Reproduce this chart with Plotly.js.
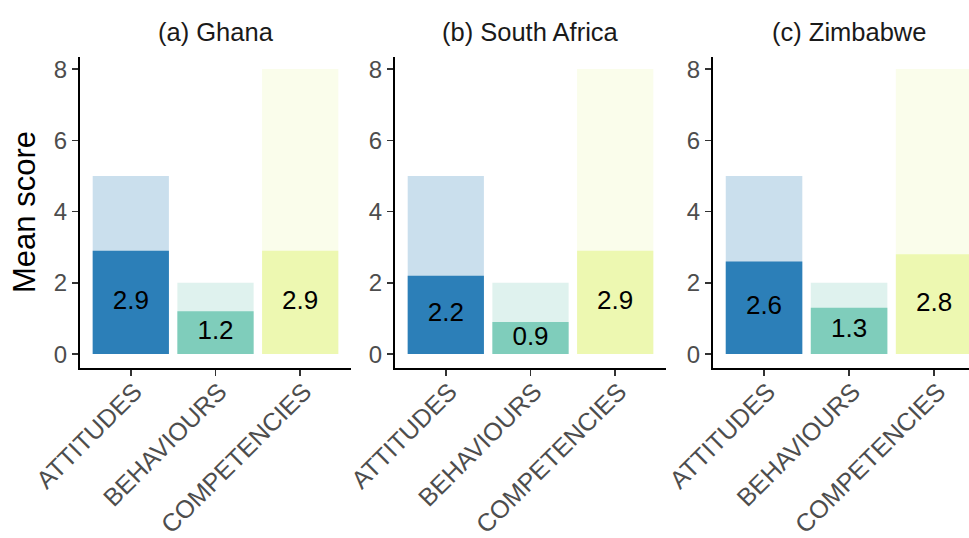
<!DOCTYPE html>
<html>
<head>
<meta charset="utf-8">
<script src="https://cdn.plot.ly/plotly-3.0.1.min.js"></script>
<style>
  html, body { margin: 0; padding: 0; background: #ffffff; }
  #chart { width: 969px; height: 538px; }
</style>
</head>
<body>
<div id="chart"></div>
<script>
// Score domains and their maximum possible score
const categories = ['ATTITUDES', 'BEHAVIOURS', 'COMPETENCIES'];
const maxScore = [5, 2, 8];

// Mean scores per country
const ghana = [2.9, 1.2, 2.9];
const southAfrica = [2.2, 0.9, 2.9];
const zimbabwe = [2.6, 1.3, 2.8];

const panelTitles = ['(a) Ghana', '(b) South Africa', '(c) Zimbabwe'];
const yTicks = [0, 2, 4, 6, 8];

// YlGnBu (3 classes), one colour per domain
const domainColors = ['#2C7FB8', '#7FCDBB', '#EDF8B1'];

const W = 969, H = 538;
const FONT = 'Liberation Sans, Arial, Helvetica, sans-serif';

// panel placement in pixels
const panelPx = [[80, 351], [395, 666], [713, 969]];
const xRanges = [[-0.6, 2.6], [-0.6, 2.6], [-0.6, 2.41]];
const plotTop = 57, plotBottom = 368;
const yDomain = [(H - plotBottom) / H, (H - plotTop) / H];

const panelValues = [ghana, southAfrica, zimbabwe];

const data = [];
const layout = {
  width: W, height: H,
  margin: { l: 0, r: 0, t: 0, b: 0 },
  paper_bgcolor: '#ffffff',
  plot_bgcolor: '#ffffff',
  barmode: 'overlay',
  showlegend: false,
  font: { family: FONT, color: '#000000' },
  annotations: []
};

panelValues.forEach((vals, i) => {
  const sfx = i === 0 ? '' : String(i + 1);
  const xa = 'x' + sfx, ya = 'y' + sfx;

  // maximum possible score (faded)
  data.push({
    type: 'bar', x: categories, y: maxScore,
    xaxis: xa, yaxis: ya, width: 0.9,
    marker: { color: domainColors, opacity: 0.25, line: { width: 0 } },
    hoverinfo: 'skip'
  });
  // mean score
  data.push({
    type: 'bar', x: categories, y: vals,
    xaxis: xa, yaxis: ya, width: 0.9,
    marker: { color: domainColors, line: { width: 0 } },
    hoverinfo: 'skip'
  });
  // value labels at mid-height of each mean bar
  data.push({
    type: 'scatter', mode: 'text',
    x: categories, y: vals.map(v => v / 2),
    text: vals.map(v => v.toFixed(1)),
    textposition: 'middle center',
    textfont: { family: FONT, size: 26, color: '#000000' },
    xaxis: xa, yaxis: ya, hoverinfo: 'skip'
  });

  layout['xaxis' + sfx] = {
    domain: [panelPx[i][0] / W, panelPx[i][1] / W],
    anchor: ya,
    type: 'category',
    range: xRanges[i],
    showline: true, linecolor: '#000000', linewidth: 2,
    ticks: 'outside', ticklen: 6, tickwidth: 1.5, tickcolor: '#333333',
    tickangle: -45,
    ticklabelstandoff: -9,
    ticklabelshift: 4,
    tickfont: { family: FONT, size: 25, color: '#4D4D4D' },
    showgrid: false, zeroline: false, fixedrange: true
  };
  layout['yaxis' + sfx] = {
    domain: yDomain,
    anchor: xa,
    range: [-0.39, 8.34],
    tickvals: yTicks,
    showline: true, linecolor: '#000000', linewidth: 2,
    ticks: 'outside', ticklen: 6, tickwidth: 1.5, tickcolor: '#333333',
    tickfont: { family: FONT, size: 24, color: '#4D4D4D' },
    showgrid: false, zeroline: false, fixedrange: true
  };

  layout.annotations.push({
    xref: 'paper', yref: 'paper',
    x: (panelPx[i][0] + 135.5) / W, y: (H - 32) / H,
    xanchor: 'center', yanchor: 'middle',
    text: panelTitles[i], showarrow: false,
    font: { family: FONT, size: 25.5, color: '#1A1A1A' }
  });
});

// shared y axis title
layout.annotations.push({
  xref: 'paper', yref: 'paper',
  x: 24 / W, y: (H - 212) / H,
  xanchor: 'center', yanchor: 'middle',
  text: 'Mean score', textangle: -90, showarrow: false,
  font: { family: FONT, size: 31, color: '#000000' }
});

Plotly.newPlot('chart', data, layout, { staticPlot: true, displayModeBar: false });
</script>
</body>
</html>
